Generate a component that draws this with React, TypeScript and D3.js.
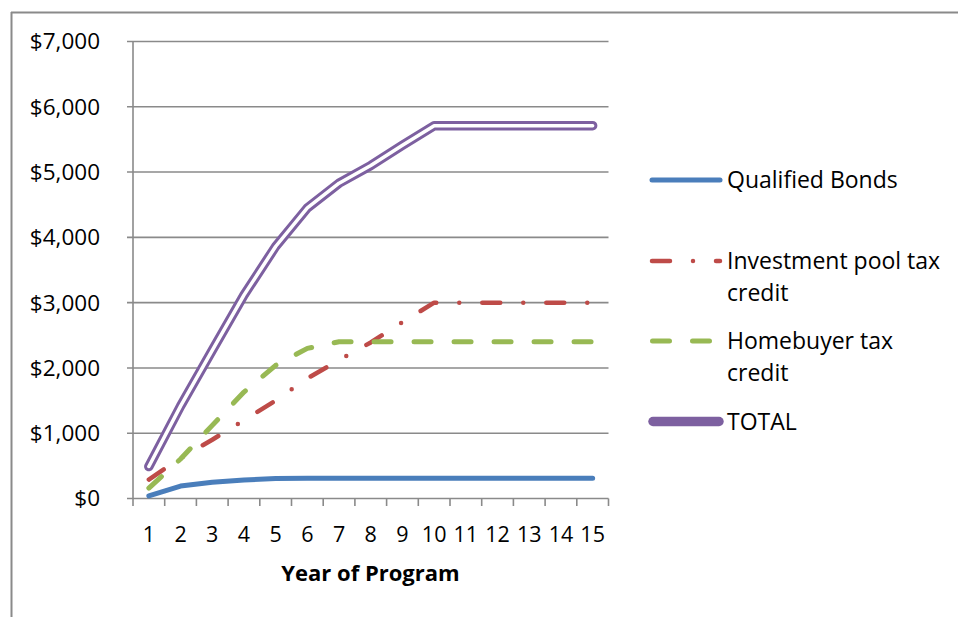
import React from "react";
import * as d3 from "d3";

const years = ["1","2","3","4","5","6","7","8","9","10","11","12","13","14","15"];
const qualifiedBonds = [40, 190, 250, 285, 305, 310, 310, 310, 310, 310, 310, 310, 310, 310, 310];
const investmentPool = [290, 620, 900, 1200, 1500, 1840, 2120, 2390, 2700, 3000, 3000, 3000, 3000, 3000, 3000];
const homebuyer = [160, 605, 1120, 1630, 2040, 2300, 2400, 2400, 2400, 2400, 2400, 2400, 2400, 2400, 2400];
const total = [490, 1415, 2270, 3115, 3860, 4450, 4830, 5100, 5410, 5710, 5710, 5710, 5710, 5710, 5710];
const yTicks = [0, 1000, 2000, 3000, 4000, 5000, 6000, 7000];

const FONT = "'Open Sans', sans-serif";
const GRID = "#8a8a8a";

export default function App() {
  const x = d3.scaleBand<string>().domain(years).range([133, 608.5]).padding(0);
  const y = d3.scaleLinear().domain([0, 7000]).range([498.5, 41.5]);
  const cx = (d: string) => (x(d) as number) + x.bandwidth() / 2;
  const line = d3
    .line<number>()
    .x((_, i) => cx(years[i]))
    .y((v) => y(v))
    .curve(d3.curveLinear);

  const bounds = [...years.map((d) => x(d) as number), 608.5];

  return (
    <svg
      width={958}
      height={617}
      style={{ position: "absolute", left: 0, top: 0, display: "block", background: "#fff" }}
    >
      {/* outer frame */}
      <line x1={11} x2={958} y1={12.5} y2={12.5} stroke={GRID} strokeWidth={2} />
      <line x1={11.5} x2={11.5} y1={12} y2={617} stroke={GRID} strokeWidth={2} />

      {/* gridlines + y ticks */}
      {yTicks.map((t) => (
        <g key={t}>
          <line x1={127} x2={608.5} y1={y(t)} y2={y(t)} stroke={GRID} strokeWidth={1.6} />
          <text
            x={100}
            y={y(t)}
            dy="0.35em"
            textAnchor="end"
            fontFamily={FONT}
            fontSize={22.5}
            fill="#000"
          >
            {"$" + d3.format(",")(t)}
          </text>
        </g>
      ))}
      {/* y axis */}
      <line x1={133} x2={133} y1={41.5} y2={498.5} stroke={GRID} strokeWidth={1.6} />
      {/* x axis ticks */}
      {bounds.map((b, i) => (
        <line key={i} x1={b} x2={b} y1={498.5} y2={506} stroke={GRID} strokeWidth={1.6} />
      ))}
      {years.map((d) => (
        <text
          key={d}
          x={cx(d)}
          y={542}
          textAnchor="middle"
          fontFamily={FONT}
          fontSize={21.5}
          fill="#000"
        >
          {d}
        </text>
      ))}
      <text
        x={370.5}
        y={581}
        textAnchor="middle"
        fontFamily={FONT}
        fontSize={22}
        fontWeight="bold"
        fill="#000"
      >
        Year of Program
      </text>

      {/* series */}
      <path d={line(qualifiedBonds) || ""} fill="none" stroke="#4A7EBB" strokeWidth={5} strokeLinecap="round" strokeLinejoin="round" />
      <path d={line(investmentPool) || ""} fill="none" stroke="#BE4B48" strokeWidth={4.5} strokeLinecap="round" strokeLinejoin="round" strokeDasharray="18 23 0 23" />
      <path d={line(homebuyer) || ""} fill="none" stroke="#98B954" strokeWidth={5} strokeLinecap="round" strokeLinejoin="round" strokeDasharray="17 23" />
      <path d={line(total) || ""} fill="none" stroke="#7D60A0" strokeWidth={9.5} strokeLinecap="round" strokeLinejoin="round" />
      <path d={line(total) || ""} fill="none" stroke="#ffffff" strokeWidth={3.5} strokeLinecap="round" strokeLinejoin="round" />

      {/* legend */}
      <line x1={652} x2={720} y1={180} y2={180} stroke="#4A7EBB" strokeWidth={5} strokeLinecap="round" />
      <text x={727} y={180} dy="0.35em" fontFamily={FONT} fontSize={23} fill="#000">Qualified Bonds</text>

      <line x1={652} x2={720} y1={261} y2={261} stroke="#BE4B48" strokeWidth={4.5} strokeLinecap="round" strokeDasharray="18 23 0 23" />
      <text x={727} y={261} dy="0.35em" fontFamily={FONT} fontSize={23} fill="#000">Investment pool tax</text>
      <text x={727} y={293} dy="0.35em" fontFamily={FONT} fontSize={23} fill="#000">credit</text>

      <line x1={652.5} x2={720} y1={341} y2={341} stroke="#98B954" strokeWidth={5} strokeLinecap="round" strokeDasharray="17 23" />
      <text x={727} y={341} dy="0.35em" fontFamily={FONT} fontSize={23} fill="#000">Homebuyer tax</text>
      <text x={727} y={373} dy="0.35em" fontFamily={FONT} fontSize={23} fill="#000">credit</text>

      <line x1={653} x2={719} y1={421.5} y2={421.5} stroke="#7D60A0" strokeWidth={9.5} strokeLinecap="round" />
      <text x={727} y={421.5} dy="0.35em" fontFamily={FONT} fontSize={23} fill="#000">TOTAL</text>
    </svg>
  );
}
